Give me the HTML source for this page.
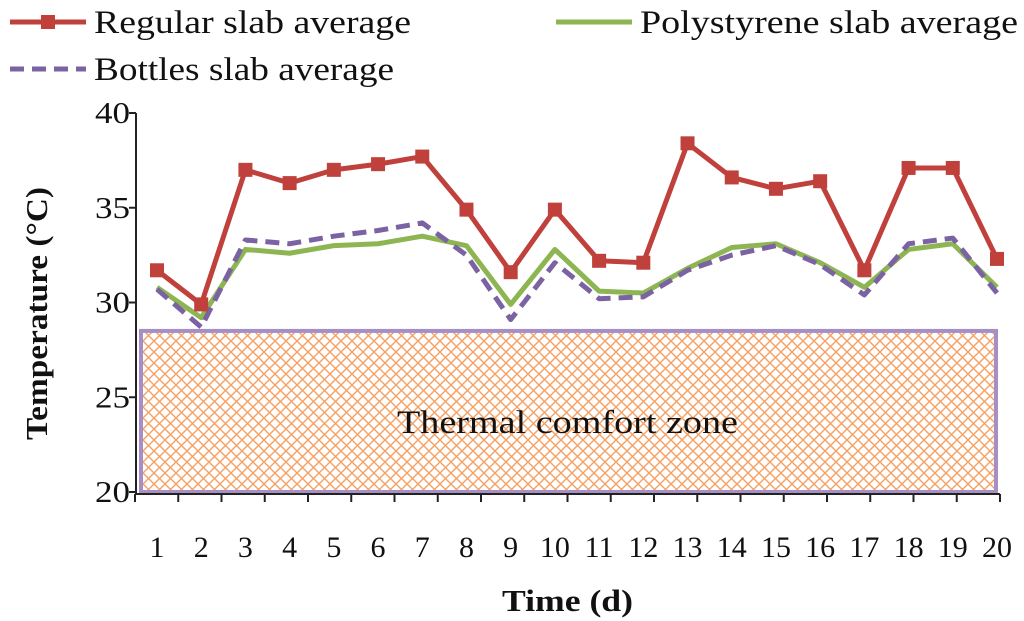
<!DOCTYPE html>
<html><head><meta charset="utf-8"><style>
html,body{margin:0;padding:0;background:#fff;}
svg{display:block;font-family:"Liberation Serif",serif;}
</style></head><body>
<svg id="chart" width="1024" height="621" viewBox="0 0 1024 621">
<defs>
<pattern id="hatch" width="11" height="11" patternUnits="userSpaceOnUse">
<path d="M0,0 L11,11 M11,0 L0,11" stroke="#f5a060" stroke-width="1.4"/>
</pattern>
</defs>
<g id="plot"></g>
</svg>
<script>
const days = ["1","2","3","4","5","6","7","8","9","10","11","12","13","14","15","16","17","18","19","20"];
const regular = [31.7,29.9,37.0,36.3,37.0,37.3,37.7,34.9,31.6,34.9,32.2,32.1,38.4,36.6,36.0,36.4,31.7,37.1,37.1,32.3];
const polystyrene = [30.8,29.2,32.8,32.6,33.0,33.1,33.5,33.0,29.9,32.8,30.6,30.5,31.8,32.9,33.1,32.1,30.8,32.8,33.1,30.8];
const bottles = [30.7,28.7,33.3,33.1,33.5,33.8,34.2,32.5,29.1,32.1,30.2,30.3,31.7,32.5,33.0,32.0,30.4,33.1,33.4,30.5];
const yTicks = [20,25,30,35,40];
const comfortMax = 28.5;

const NS="http://www.w3.org/2000/svg";
const g=document.getElementById('plot');
function y(v){return 492-(v-20)*(379/20);}
function x(i){return 157+i*(840/19);}
function mk(tag,attrs,parent){const e=document.createElementNS(NS,tag);for(const k in attrs)e.setAttribute(k,attrs[k]);(parent||g).appendChild(e);return e;}

// comfort zone
const cz=mk('rect',{x:141,y:y(comfortMax),width:855,height:492-y(comfortMax),fill:'url(#hatch)',stroke:'#a58fc4','stroke-width':4});


const czt=mk('text',{x:397,y:433,'font-size':33,fill:'#111',textLength:341,lengthAdjust:'spacingAndGlyphs'});
czt.textContent='Thermal comfort zone';



// axes
const ya=mk('line',{x1:136,y1:113,x2:136,y2:495,stroke:'#222','stroke-width':2});


const xa=mk('line',{x1:135,y1:494,x2:1000,y2:494,stroke:'#222','stroke-width':2});


yTicks.forEach(v=>{
  mk('line',{x1:129,y1:y(v),x2:136,y2:y(v),stroke:'#222','stroke-width':2});
  const t=mk('text',{x:130,y:y(v)+10,'text-anchor':'end','font-size':31,fill:'#111',textLength:35,lengthAdjust:'spacingAndGlyphs'});
  t.textContent=v;
  
  
});
for(let i=0;i<=days.length;i++){
  const xx=135+i*(865/20);
  mk('line',{x1:xx,y1:494,x2:xx,y2:502,stroke:'#222','stroke-width':2});
}
days.forEach((d,i)=>{
  const t=mk('text',{x:x(i),y:557,'text-anchor':'middle','font-size':30,fill:'#111'});
  t.textContent=d;
  
  
});
const xt=mk('text',{x:502,y:611,'font-size':31,'font-weight':'bold',fill:'#111',textLength:131,lengthAdjust:'spacingAndGlyphs'});
xt.textContent='Time (d)';


const yt=mk('text',{x:-440,y:0,'font-size':31,'font-weight':'bold',fill:'#111',transform:'translate(47,0) rotate(-90)',textLength:253,lengthAdjust:'spacingAndGlyphs'});
yt.textContent='Temperature (°C)';



function series(vals,color,dash,name){
  const p=mk('polyline',{points:vals.map((v,i)=>x(i)+','+y(v)).join(' '),fill:'none',stroke:color,'stroke-width':5,'stroke-dasharray':dash||'none','stroke-linejoin':'round'});
  
  
  return p;
}
series(polystyrene,'#8db653',null,'polystyrene-line');
series(bottles,'#7b62a3','14,8','bottles-line');
series(regular,'#c0403c',null,'regular-line');
regular.forEach((v,i)=>{
  const m=mk('rect',{x:x(i)-7,y:y(v)-7,width:14,height:14,fill:'#c0403c'});
  
  
});

// legend
function legend(x0,yy,color,dash,marker,label,name,tx,tw){
  const lg=mk('g',{});
  
  
  mk('line',{x1:x0,y1:yy,x2:x0+76,y2:yy,stroke:color,'stroke-width':5,'stroke-dasharray':dash||'none'},lg);
  if(marker) mk('rect',{x:x0+31,y:yy-7,width:14,height:14,fill:color},lg);
  const t=mk('text',{x:tx,y:yy+11,'font-size':33,fill:'#111',textLength:tw,lengthAdjust:'spacingAndGlyphs'},lg);
  t.textContent=label;
}
legend(10,22,'#c0403c',null,true,'Regular slab average','legend-regular',94,317);
legend(556,22,'#8db653',null,false,'Polystyrene slab average','legend-polystyrene',640,378);
legend(10,69,'#7b62a3','14,8',false,'Bottles slab average','legend-bottles',94,300);
</script>
</body></html>
